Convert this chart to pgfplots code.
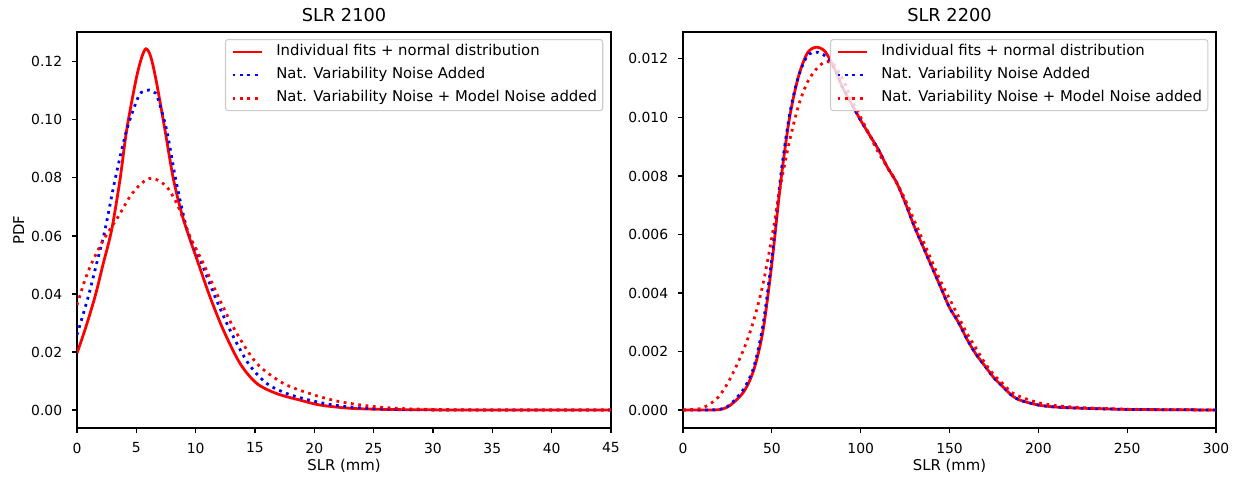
\documentclass[border=0pt]{standalone}
\usepackage{fontspec}
\setmainfont{DejaVu Sans}
\usepackage{pgfplots}
\usepackage{pgfplotstable}
\pgfplotsset{compat=1.18}

\definecolor{mplred}{rgb}{1,0,0}
\definecolor{mplblue}{rgb}{0,0,1}

% SLR 2100
\pgfplotstableread{
x y
0 0.0196
0.67 0.0276
1.52 0.0391
2.22 0.0506
2.92 0.0621
3.62 0.0793
4.19 0.0966
4.97 0.1138
5.45 0.1215
5.81 0.1245
6.2 0.1220
6.66 0.1138
7.41 0.0966
8.11 0.0799
8.82 0.0678
9.44 0.0598
10.22 0.0506
11.2 0.0391
12.33 0.0276
13.73 0.0161
15.14 0.0092
16.8 0.0057
18.8 0.0034
20.5 0.0017
23 0.0006
26 0.0002
30 0.00005
35 0
45 0
}\Lfit
\pgfplotstableread{
x y
0 0.0259
0.95 0.0391
1.66 0.0506
2.36 0.0621
3.2 0.0793
4.19 0.0966
5.17 0.1080
5.6 0.1098
6.09 0.1103
6.5 0.1095
6.77 0.1080
7.55 0.0966
8.33 0.0793
9.29 0.0621
10.5 0.0506
11.63 0.0391
12.89 0.0276
14.43 0.0161
15.98 0.0092
17.67 0.0057
19.6 0.0034
21.5 0.0018
24 0.0007
27 0.0002
30 0.00005
35 0
45 0
}\Lnat
\pgfplotstableread{
x y
0 0.0362
0.67 0.0448
1.24 0.0506
2.22 0.0586
3.48 0.0667
4.47 0.0736
5.45 0.0782
6.37 0.0799
7.55 0.0770
8.53 0.0701
9.52 0.0598
10.64 0.0506
11.9 0.0391
13.3 0.0276
15.14 0.0161
17.38 0.0092
19.6 0.0057
22 0.0030
25 0.0012
28 0.0004
32 0.0001
36 0
45 0
}\Lmodel

% SLR 2200
\pgfplotstableread{
x y
0 0
10 0
20 0.00001
25 0.0001
30 0.00034
35 0.0007
40 0.0014
45 0.0027
50 0.0050
55 0.0078
60 0.0100
65 0.0114
70 0.0122
75 0.0124
80 0.01225
85 0.0117
90 0.0110
95 0.01045
100 0.0099
105 0.0094
110 0.0089
115 0.0083
120 0.0078
125 0.0071
130 0.0063
135 0.0056
140 0.0049
145 0.0042
150 0.0035
155 0.0030
160 0.0024
165 0.0019
170 0.0015
175 0.0011
180 0.0008
185 0.0005
190 0.00033
200 0.00017
210 0.0001
225 0.00006
250 0.00002
275 0.00001
300 0
}\Rfit
\pgfplotstableread{
x y
0 0
10 0
20 0.00002
25 0.00012
30 0.0004
35 0.0008
40 0.0015
45 0.0029
50 0.0052
55 0.0080
60 0.0101
65 0.0114
70 0.0121
75 0.01223
80 0.0121
85 0.0117
90 0.0110
95 0.01045
100 0.0099
105 0.0094
110 0.0089
115 0.0083
120 0.0078
125 0.0071
130 0.0063
135 0.0056
140 0.0049
145 0.0042
150 0.0035
155 0.0030
160 0.0024
165 0.0019
170 0.0015
175 0.0011
180 0.0008
185 0.0005
190 0.00033
200 0.00017
210 0.0001
225 0.00006
250 0.00002
275 0.00001
300 0
}\Rnat
\pgfplotstableread{
x y
0 0
5 0.00002
10 0.00005
15 0.0002
20 0.00045
25 0.0009
30 0.0015
35 0.0022
40 0.0031
45 0.0043
50 0.0059
55 0.0077
60 0.0092
65 0.0104
70 0.0112
75 0.01165
80 0.0119
85 0.0118
90 0.0113
95 0.0106
100 0.0100
105 0.0094
110 0.0088
115 0.0083
120 0.0078
125 0.0072
130 0.0065
135 0.0058
140 0.0051
145 0.0044
150 0.0038
155 0.0032
160 0.0026
165 0.0021
170 0.0016
175 0.0012
180 0.0009
185 0.0006
190 0.00045
200 0.00025
210 0.00015
225 0.00008
250 0.00003
275 0.00001
300 0
}\Rmodel

\pgfplotsset{
  mpl/.style={
    scale only axis,
    height=285.12bp,
    axis line style={line width=0.8bp},
    tick align=outside,
    tick pos=left,
    major tick length=3.5bp,
    every tick/.style={black, line width=0.8bp},
    scaled ticks=false,
    /pgf/number format/assume math mode=true,
    ticklabel style={font=\fontsize{10bp}{12bp}\selectfont},
    xticklabel style={anchor=north, inner sep=0pt, yshift=-7bp},
    yticklabel style={anchor=east, inner sep=0pt, xshift=-7bp},
    every axis title/.style={font=\fontsize{12.8bp}{15bp}\selectfont, at={(0.5,1)}, anchor=base, yshift=7.4bp},
    every axis x label/.style={font=\fontsize{10.7bp}{13bp}\selectfont, at={(axis description cs:0.5,0)}, anchor=base, yshift=-30.3bp},
    every axis y label/.style={font=\fontsize{10.7bp}{13bp}\selectfont, at={(axis description cs:0,0.5)}, xshift=-42bp, rotate=90, anchor=center},
    legend cell align=left,
    legend image code/.code={\draw[##1, line width=2bp] (0bp,0bp) -- (21bp,0bp);},
    legend style={at={(1,1)}, anchor=north east, xshift=-5.5bp, yshift=-5bp,
      draw=black!20, line width=0.8bp, rounded corners=2bp,
      fill=white, fill opacity=0.8, draw opacity=1, text opacity=1,
      inner xsep=4.2bp, inner ysep=3.7bp, row sep=6bp,
      font=\fontsize{10.7bp}{13bp}\selectfont,
      nodes={inner sep=0pt, text height=8bp, text depth=2.6bp},
      /tikz/every odd column/.style={column sep=9.4bp}},
  },
  fitline/.style={mplred, line width=2bp, smooth, tension=0.5},
  natline/.style={mplblue, line width=2bp, dash pattern=on 2bp off 3.3bp, smooth, tension=0.5},
  modline/.style={mplred, line width=2bp, dash pattern=on 2bp off 3.3bp, smooth, tension=0.5},
}

\begin{document}
\begin{tikzpicture}
\path[use as bounding box] (-55.44bp,-35.28bp) rectangle (833.76bp,308.16bp);

\begin{axis}[mpl,
  at={(0bp,0bp)}, anchor=south west,
  width=384.48bp,
  xmin=0, xmax=45, ymin=-0.0062, ymax=0.1303,
  xtick={0,5,...,45},
  ytick={0,0.02,0.04,0.06,0.08,0.10,0.12},
  yticklabel style={/pgf/number format/.cd, fixed, fixed zerofill, precision=2},
  title={SLR 2100}, xlabel={SLR (mm)}, ylabel={PDF}]
\addplot[fitline] table {\Lfit};
\addlegendentry{Individual fits + normal distribution}
\addplot[natline] table {\Lnat};
\addlegendentry{Nat. Variability Noise Added}
\addplot[modline] table {\Lmodel};
\addlegendentry{Nat. Variability Noise + Model Noise added}
\end{axis}

\begin{axis}[mpl,
  at={(436.32bp,0bp)}, anchor=south west,
  width=383.76bp,
  xmin=0, xmax=300, ymin=-0.000615, ymax=0.01292,
  xtick={0,50,...,300},
  ytick={0,0.002,0.004,0.006,0.008,0.010,0.012},
  yticklabel style={/pgf/number format/.cd, fixed, fixed zerofill, precision=3},
  title={SLR 2200}, xlabel={SLR (mm)}]
\addplot[fitline] table {\Rfit};
\addlegendentry{Individual fits + normal distribution}
\addplot[natline] table {\Rnat};
\addlegendentry{Nat. Variability Noise Added}
\addplot[modline] table {\Rmodel};
\addlegendentry{Nat. Variability Noise + Model Noise added}
\end{axis}
\end{tikzpicture}
\end{document}
